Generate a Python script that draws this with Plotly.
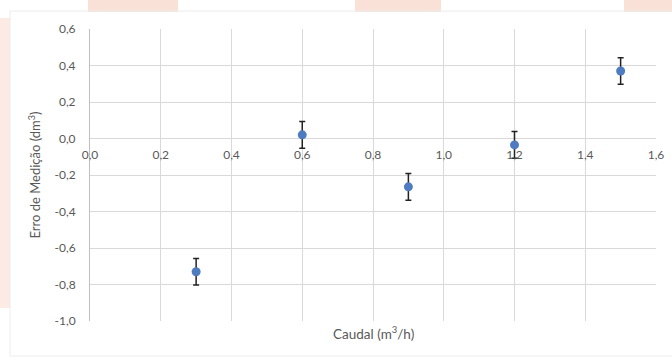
import plotly.graph_objects as go

# data
caudal = [0.3, 0.6, 0.9, 1.2, 1.5]
erro = [-0.73, 0.02, -0.265, -0.035, 0.37]
erro_incerteza = [0.073, 0.073, 0.073, 0.073, 0.073]

x_ticks = [0.0, 0.2, 0.4, 0.6, 0.8, 1.0, 1.2, 1.4, 1.6]
x_tick_labels = ["0,0", "0,2", "0,4", "0,6", "0,8", "1,0", "1,2", "1,4", "1,6"]
y_ticks = [0.6, 0.4, 0.2, 0.0, -0.2, -0.4, -0.6, -0.8, -1.0]
y_tick_labels = ["0,6", "0,4", "0,2", "0,0", "-0,2", "-0,4", "-0,6", "-0,8", "-1,0"]

x_range = [0.0, 1.6]
y_range = [-1.0, 0.6]

FONT = "Lato, 'Open Sans', sans-serif"
GRID = "#d9d9d9"
TXT = "#595959"

fig = go.Figure()
fig.add_trace(go.Scatter(
    x=caudal, y=erro, mode="markers",
    marker=dict(color="#4f7cc0", size=9),
    error_y=dict(type="data", array=erro_incerteza, color="#222222", thickness=1.5, width=3),
    showlegend=False, cliponaxis=False,
))

ml, mr, mt, mb = 90, 16, 29, 39
W, H = 672, 360
pw, ph = W - ml - mr, H - mt - mb

def px2x(px):
    return (px - ml) / pw

def px2y(py):
    return 1 - (py - mt) / ph

# x axis sits at y = 0
x_axis_pos = (0 - y_range[0]) / (y_range[1] - y_range[0])

fig.update_layout(
    width=W, height=H,
    margin=dict(l=ml, r=mr, t=mt, b=mb, autoexpand=False),
    paper_bgcolor="white", plot_bgcolor="white",
    font=dict(family=FONT, size=12, color=TXT),
    xaxis=dict(
        range=x_range, tickvals=x_ticks, ticktext=x_tick_labels,
        showgrid=True, gridcolor=GRID, gridwidth=1,
        zeroline=False, showline=False, ticks="",
        anchor="free", position=x_axis_pos, automargin=False,
        ticklabelstandoff=7,
        tickfont=dict(size=12, color=TXT, family=FONT),
    ),
    yaxis=dict(
        range=y_range, tickvals=y_ticks, ticktext=y_tick_labels,
        showgrid=True, gridcolor=GRID, gridwidth=1,
        zeroline=False, showline=True, linecolor="#bfbfbf", linewidth=1,
        ticks="", ticklabelstandoff=11, automargin=False,
        tickfont=dict(size=12, color=TXT, family=FONT),
        title=dict(text="Erro de Medição (dm<sup>3</sup>)", font=dict(size=13, color=TXT, family=FONT), standoff=10),
    ),
)

# x axis title
fig.add_annotation(
    text="Caudal (m<sup>3</sup>/h)", xref="paper", yref="paper",
    x=0.5, y=px2y(333), xanchor="center", yanchor="middle",
    showarrow=False, font=dict(size=13.5, color=TXT, family=FONT),
)

# background decorations (document page fragments)
peach = "#f9e1d8"
peach2 = "#fbebe4"
shapes = []
for x0, x1 in [(88, 178), (355, 441), (624, 672)]:
    shapes.append(dict(type="rect", xref="paper", yref="paper", layer="below",
                       x0=px2x(x0), x1=px2x(x1), y0=px2y(12), y1=px2y(0),
                       fillcolor=peach, line=dict(width=0)))
shapes.append(dict(type="rect", xref="paper", yref="paper", layer="below",
                   x0=px2x(0), x1=px2x(10), y0=px2y(308), y1=px2y(18),
                   fillcolor=peach2, line=dict(width=0)))
# chart area border
shapes.append(dict(type="rect", xref="paper", yref="paper", layer="below",
                   x0=px2x(10), x1=px2x(680), y0=px2y(356), y1=px2y(11),
                   fillcolor="rgba(0,0,0,0)", line=dict(width=1, color="#ececec")))
fig.update_layout(shapes=shapes)

fig.write_html(
    "out.html",
    config={"displayModeBar": False},
    post_script="document.body.style.margin='0';document.body.style.overflow='hidden';",
)
